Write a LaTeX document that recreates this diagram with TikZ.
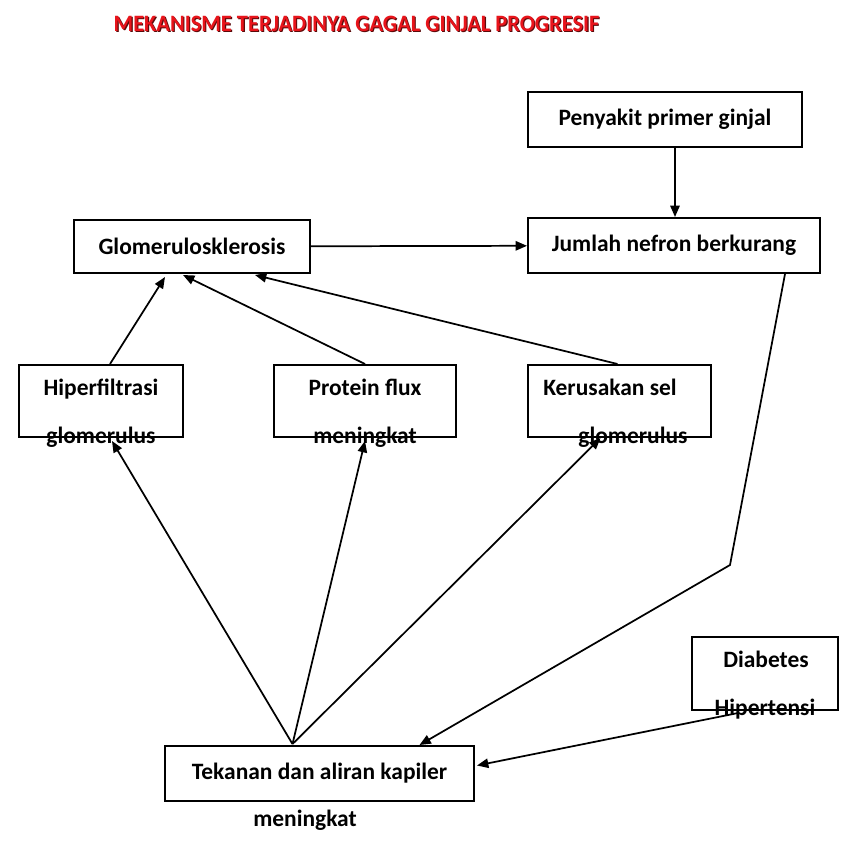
\documentclass[tikz,border=0pt]{standalone}
\usepackage{fontspec}
\setmainfont{Carlito}
\usepackage{tikz}
\usetikzlibrary{arrows.meta, positioning, calc}
\definecolor{titleRed}{HTML}{E8141B}
\definecolor{titleShade}{HTML}{5A0A0A}

\begin{document}
\begin{tikzpicture}[
  x=0.75pt, y=-0.75pt,
  font=\fontsize{17.6}{20}\selectfont\bfseries,
  box/.style={draw, line width=1.5pt, inner sep=0pt, fill=white},
  lbl/.style={inner sep=0pt, anchor=base},
  a/.style={-{Triangle[length=8.5pt, width=7pt]}, line width=1.3pt}
]
\useasboundingbox[fill=white] (0,0) rectangle (840,854);

% title
\node[lbl, text=titleShade, scale=1.0, xscale=0.955] (titleSh) at (357.6,32.6) {MEKANISME TERJADINYA GAGAL GINJAL PROGRESIF};
\node[lbl, text=titleRed, scale=1.0, xscale=0.955] (title) at (356.5,31.5) {MEKANISME TERJADINYA GAGAL GINJAL PROGRESIF};

% boxes
\node[box, minimum width=274*0.75pt, minimum height=55*0.75pt] (primer) at (665,119.5) {Penyakit primer ginjal};
\node[box, minimum width=292*0.75pt, minimum height=55*0.75pt] (nefron) at (674,245.5) {Jumlah nefron berkurang};
\node[box, minimum width=236*0.75pt, minimum height=53*0.75pt] (glomeru) at (192,246.5) {Glomerulosklerosis};
\node[box, minimum width=164*0.75pt, minimum height=72*0.75pt] (hiper) at (101,401) {};
\node[box, minimum width=182*0.75pt, minimum height=72*0.75pt] (protein) at (365,401) {};
\node[box, minimum width=183*0.75pt, minimum height=72*0.75pt] (rusak) at (619.5,401) {};
\node[box, minimum width=146*0.75pt, minimum height=73*0.75pt] (diabetes) at (765,673.5) {};
\node[box, minimum width=309*0.75pt, minimum height=55*0.75pt] (tekanan) at (319.5,773.5) {Tekanan dan aliran kapiler};

% texts in and around the boxes
\node[lbl] (hiperA) at (101,395) {Hiperfiltrasi};
\node[lbl] (hiperB) at (101,443) {glomerulus};
\node[lbl] (proteinA) at (365,395) {Protein flux};
\node[lbl] (proteinB) at (365,443) {meningkat};
\node[lbl] (rusakA) at (610,395) {Kerusakan sel};
\node[lbl] (rusakB) at (633,443) {glomerulus};
\node[lbl] (diabetesA) at (766,667) {Diabetes};
\node[lbl] (diabetesB) at (765,715) {Hipertensi};
\node[lbl] (tekananB) at (305,826) {meningkat};
\coordinate (tekuk) at (730,565);

% arrows
\draw[a] (glomeru) -- (nefron);
\draw[a] (primer.south -| 675,0) -- (nefron.north -| 675,0);
\draw[a] ($(hiper.north)+(9,0)$) -- ($(glomeru.south)+(-27,3)$);
\draw[a] (protein.north) -- ($(glomeru.south)+(-9,1)$);
\draw[a] ($(rusak.north)+(-2,0)$) -- ($(glomeru.south)+(63,1)$);
\draw[a] ($(nefron.south)+(111,0)$) -- (tekuk) -- ($(tekanan.north)+(100,0)$);
\draw[a] ($(diabetes.south)+(-27,2)$) -- ($(tekanan.east)+(2,-8)$);
\draw[a] ($(tekanan.north)+(-27,-1)$) -- ($(hiper.south)+(11,3)$);
\draw[a] ($(tekanan.north)+(-27,-1)$) -- ($(protein.south)+(0,3)$);
\draw[a] ($(tekanan.north)+(-27,-1)$) -- ($(rusak.south)+(-19,0)$);
\end{tikzpicture}
\end{document}
